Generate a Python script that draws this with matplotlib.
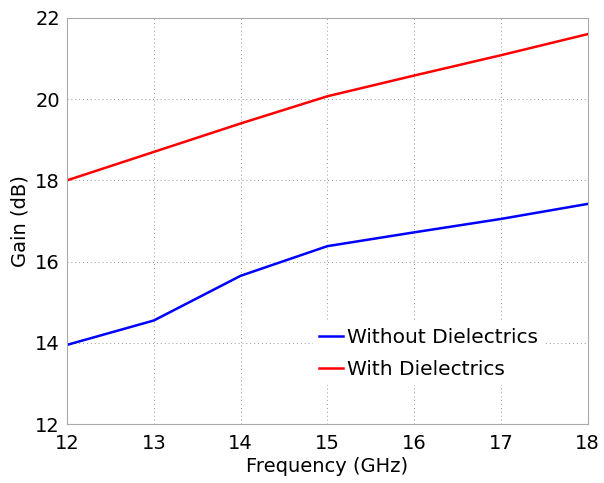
import matplotlib
matplotlib.use("Agg")
import matplotlib.pyplot as plt

plt.rcParams['font.family'] = ['DejaVu Sans']

freq = [12, 13, 14, 15, 16, 17, 18]
gain_without = [13.95, 14.55, 15.65, 16.38, 16.72, 17.05, 17.42]
gain_with = [18.0, 18.7, 19.4, 20.07, 20.58, 21.08, 21.6]

fig = plt.figure(figsize=(6.04, 4.83), dpi=100)
ax = fig.add_axes([0.111, 0.122, 0.862, 0.841])

ax.plot(freq, gain_without, color='#0000ff', lw=1.8, label='Without Dielectrics')
ax.plot(freq, gain_with, color='#ff0000', lw=1.8, label='With Dielectrics')

ax.set_xlim(12, 18)
ax.set_ylim(12, 22)
ax.set_xticks(range(12, 19))
ax.set_yticks(range(12, 23, 2))
ax.grid(True, color='#999999', linestyle=(0, (1, 3)), linewidth=0.7)
ax.tick_params(axis='x', length=0, labelsize=14, pad=7)
ax.tick_params(axis='y', length=0, labelsize=14, pad=5)
for s in ax.spines.values():
    s.set_color('#aaaaaa')

ax.set_xlabel('Frequency (GHz)', fontsize=14, labelpad=3)
ax.set_ylabel('Gain (dB)', fontsize=14, labelpad=4)

leg = ax.legend(loc='lower right', bbox_to_anchor=(0.935, 0.072), frameon=True,
                fontsize=14.5, handlelength=1.2, handletextpad=0.2, borderpad=0.3,
                labelspacing=0.62)
leg.get_frame().set_edgecolor('none')
leg.get_frame().set_facecolor('white')
leg.get_frame().set_alpha(1)

fig.savefig('out.png', dpi=100)
